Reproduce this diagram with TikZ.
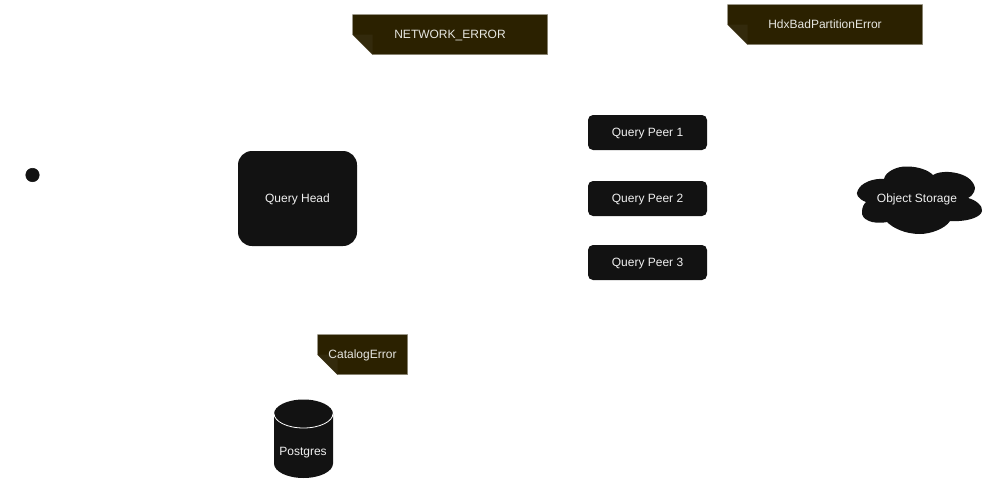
\documentclass[tikz,border=0pt]{standalone}
\usepackage{fontspec}
\setmainfont{Liberation Sans}
\definecolor{nodefill}{HTML}{121212}
\definecolor{notefill}{HTML}{2B2100}
\definecolor{notefold}{HTML}{332A0C}
\definecolor{noteline}{HTML}{8F8B7C}
\definecolor{nodetext}{HTML}{F0F0F0}
\definecolor{notetext}{HTML}{E6E6E0}
\tikzset{
  txt/.style={text height=10.7pt,text depth=2.5pt,font=\fontsize{12}{14}\selectfont},
  peerbox/.style={txt,fill=nodefill,rounded corners=5pt,minimum width=119pt,minimum height=35pt,inner sep=0pt,text=nodetext},
  headbox/.style={peerbox,rounded corners=14pt,minimum height=95pt},
  lbl/.style={txt,inner sep=0pt,text=nodetext},
  notelbl/.style={txt,inner sep=0pt,text=notetext},
  noteshape/.style={draw=noteline,line width=.5pt,fill=notefill},
  foldshape/.style={fill=notefold},
  startdot/.style={circle,fill=nodefill,draw=nodefill,line width=.5pt,minimum size=13.5pt,inner sep=0pt},
}
\newcommand{\notebox}[6]{%
  \draw[noteshape] (#1,#2) -- (#3,#2) -- (#3,#4) -- (#1+20,#4) -- (#1,#4-20) -- cycle;
  \fill[foldshape] (#1,#4-20) -- (#1+20,#4-20) -- (#1+20,#4) -- cycle;
  \node[notelbl] (#5) at ({(#1+#3)/2},{#2+20.2}) {#6};
}
\begin{document}
\begin{tikzpicture}[x=1pt,y=-1pt]
\useasboundingbox (0,0) rectangle (988,479);
% start dot
\node[startdot] (start) at (32.5,175) {};
% query head and peers
\node[headbox] (head) at (297.5,198.5) {Query Head};
\node[peerbox] (peerA) at (647.5,132.5) {Query Peer 1};
\node[peerbox] (peerB) at (647.5,198.5) {Query Peer 2};
\node[peerbox] (peerC) at (647.5,262.5) {Query Peer 3};
% error notes
\notebox{352.5}{14.5}{547.5}{54.5}{netErr}{NETWORK\_ERROR}
\notebox{727.5}{4.5}{922.5}{44.5}{badPart}{HdxBadPartitionError}
\notebox{317.5}{334.5}{407.5}{374.5}{catErr}{CatalogError}
% cloud
\fill[nodefill] (866,202) .. controls (858,199) and (855,194) .. (858,190)
  .. controls (861,183) and (873,178) .. (884,179)
  .. controls (885,172) and (897,166) .. (907,166.5)
  .. controls (918,166.5) and (928,170) .. (933,175)
  .. controls (940,170.5) and (955,171) .. (965,176)
  .. controls (973,180) and (977,188) .. (974,192)
  .. controls (973,195) and (970,197) .. (968,198)
  .. controls (976,200) and (983,206) .. (982,211)
  .. controls (981,217) and (968,222) .. (950,221)
  .. controls (945,229) and (930,234) .. (920,234)
  .. controls (905,234) and (893,228) .. (887,222)
  .. controls (872,225) and (861,219) .. (862,212)
  .. controls (862,207) and (864,204) .. (866,202) -- cycle;
\node[lbl] (store) at (917,198.8) {Object Storage};
% postgres cylinder
\fill[nodefill] (274,414) -- (274,463.5) arc [start angle=180,end angle=0,x radius=29.5,y radius=14.5] -- (333,414) arc [start angle=360,end angle=180,x radius=29.5,y radius=14.5] -- cycle;
\draw[white,line width=.8pt] (274,413.5) arc [start angle=180,end angle=0,x radius=29.5,y radius=14.5];
\node[lbl] (pg) at (303,451.5) {Postgres};
\end{tikzpicture}
\end{document}
